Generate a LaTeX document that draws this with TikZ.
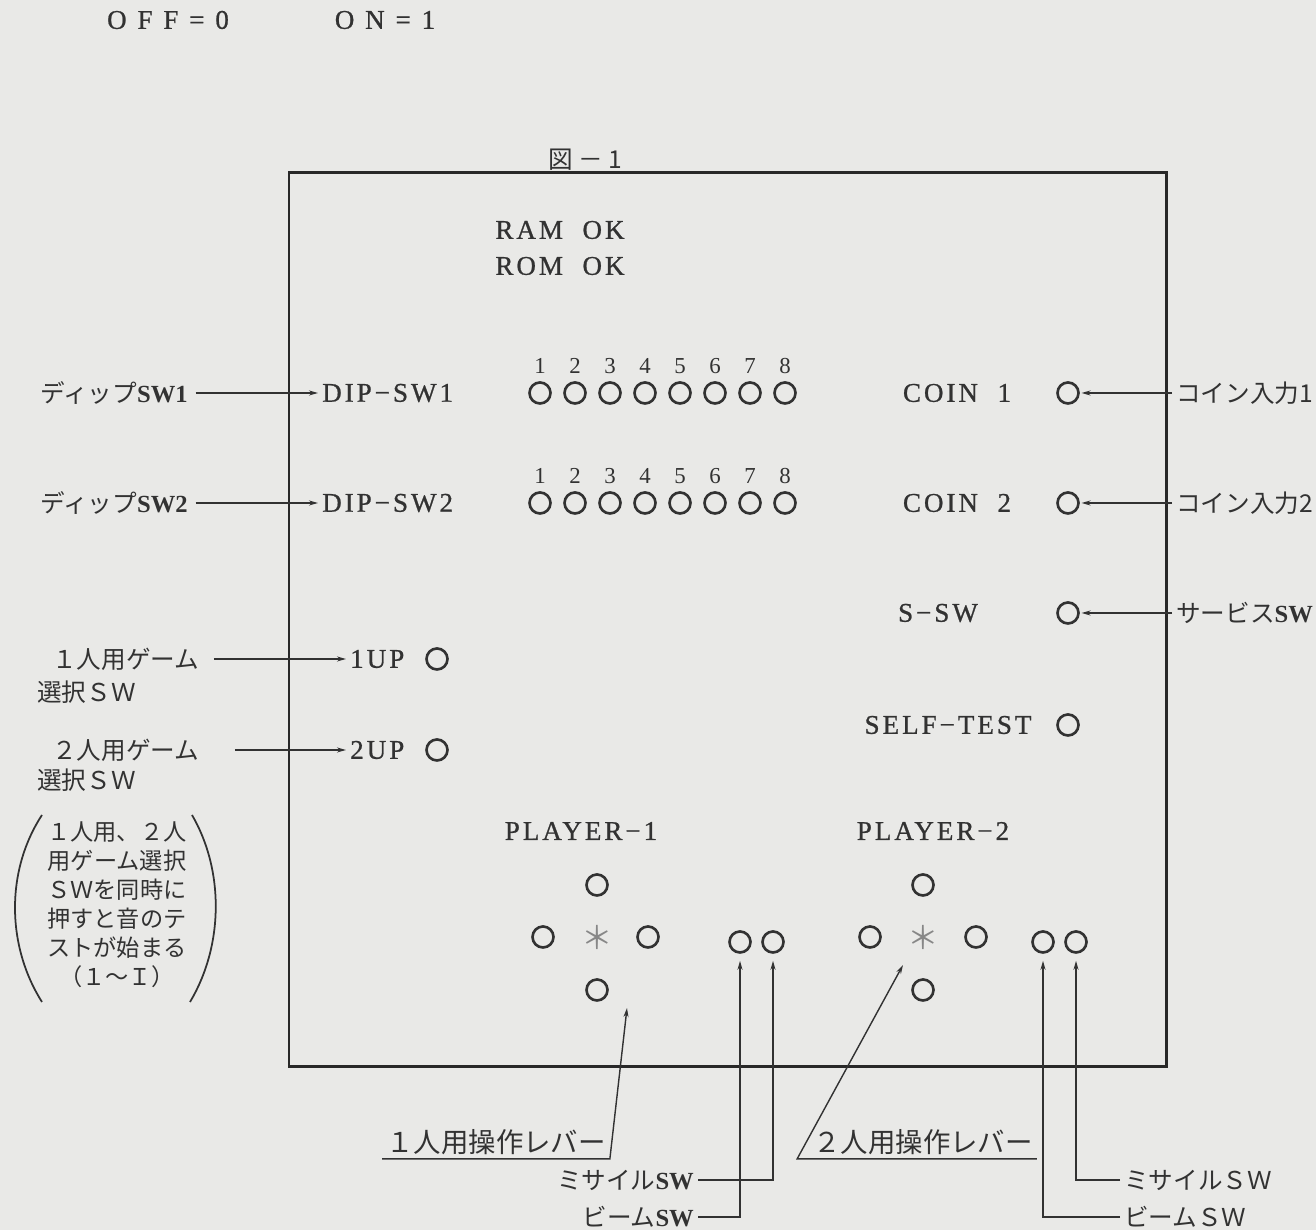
\documentclass[tikz,border=0pt]{standalone}
\usepackage{fontspec}
\setmainfont{Liberation Serif}
\newfontfamily\jpFont{Noto Sans CJK JP}
\newfontfamily\panelFont[LetterSpace=11, FakeBold=0.8]{Liberation Serif}
\newfontfamily\wideFont[LetterSpace=40, FakeBold=0.8]{Liberation Serif}
\usepackage{tikz}
\usetikzlibrary{arrows.meta}
\usetikzlibrary{positioning}
\definecolor{paperGray}{RGB}{233,233,231}
\definecolor{inkGray}{RGB}{50,50,50}
\definecolor{frameGray}{RGB}{40,40,40}
\definecolor{starGray}{RGB}{135,135,135}
\tikzset{lampCircle/.style={draw=inkGray, circle, line width=0.75pt, minimum size=0.21cm, inner sep=0pt}}
\tikzset{panelText/.style={text=inkGray, inner sep=1pt, font=\panelFont\fontsize{7.7}{9}\selectfont}}
\tikzset{jpText/.style={text=inkGray, inner sep=1pt, font=\jpFont\fontsize{7}{8.4}\selectfont}}
\tikzset{swArrow/.style={draw=inkGray, line width=0.4pt, -{Stealth[length=0.09cm,width=0.05cm]}}}
\tikzset{digitLabel/.style={label={[text=inkGray, font=\fontsize{6.5}{7}\selectfont, inner sep=0.5pt, label distance=1.5pt]above:#1}}}

\begin{document}
\begin{tikzpicture}

\useasboundingbox (0,0) rectangle (13.16,12.30);
\fill[paperGray] (0,0) rectangle (13.16,12.30);

\node[panelText] (offLbl) at (1.68, 12.10) {\wideFont OFF=0};
\node[panelText] (onLbl) at (3.85, 12.10) {\wideFont ON=1};
\node[jpText] (figTitle) at (5.85, 10.70) {図 － 1};

% screen frame
\draw[frameGray, line width=0.85pt] (2.89, 1.63) rectangle (11.66, 10.57);

\node[panelText] (ramOk) at (5.60, 10.00) {RAM\ \ OK};
\node[panelText] (romOk) at (5.60, 9.64) {ROM\ \ OK};

% dip switches
\node[jpText, anchor=east] (dipALbl) at (1.92, 8.37) {ディップ{\rmfamily\bfseries SW1}};
\node[panelText, anchor=west] (dipA) at (3.18, 8.37) {DIP−SW1};
\node[lampCircle, digitLabel=1] (da1) at (5.40, 8.37) {};
\node[lampCircle, digitLabel=2] (da2) at (5.75, 8.37) {};
\node[lampCircle, digitLabel=3] (da3) at (6.10, 8.37) {};
\node[lampCircle, digitLabel=4] (da4) at (6.45, 8.37) {};
\node[lampCircle, digitLabel=5] (da5) at (6.80, 8.37) {};
\node[lampCircle, digitLabel=6] (da6) at (7.15, 8.37) {};
\node[lampCircle, digitLabel=7] (da7) at (7.50, 8.37) {};
\node[lampCircle, digitLabel=8] (da8) at (7.85, 8.37) {};

\node[jpText, anchor=east] (dipBLbl) at (1.92, 7.27) {ディップ{\rmfamily\bfseries SW2}};
\node[panelText, anchor=west] (dipB) at (3.18, 7.27) {DIP−SW2};
\node[lampCircle, digitLabel=1] (db1) at (5.40, 7.27) {};
\node[lampCircle, digitLabel=2] (db2) at (5.75, 7.27) {};
\node[lampCircle, digitLabel=3] (db3) at (6.10, 7.27) {};
\node[lampCircle, digitLabel=4] (db4) at (6.45, 7.27) {};
\node[lampCircle, digitLabel=5] (db5) at (6.80, 7.27) {};
\node[lampCircle, digitLabel=6] (db6) at (7.15, 7.27) {};
\node[lampCircle, digitLabel=7] (db7) at (7.50, 7.27) {};
\node[lampCircle, digitLabel=8] (db8) at (7.85, 7.27) {};

\draw[swArrow, shorten <=1pt] (dipALbl) -- (dipA);
\draw[swArrow, shorten <=1pt] (dipBLbl) -- (dipB);

% coin, service, self test
\node[panelText] (coinA) at (9.57, 8.37) {COIN\ \ 1};
\node[lampCircle] (coinALamp) at (10.68, 8.37) {};
\node[jpText, anchor=west] (coinALbl) at (11.72, 8.37) {コイン入力1};

\node[panelText] (coinB) at (9.57, 7.27) {COIN\ \ 2};
\node[lampCircle] (coinBLamp) at (10.68, 7.27) {};
\node[jpText, anchor=west] (coinBLbl) at (11.72, 7.27) {コイン入力2};

\node[panelText] (sSw) at (9.38, 6.17) {S−SW};
\node[lampCircle] (sSwLamp) at (10.68, 6.17) {};
\node[jpText, anchor=west] (sSwLbl) at (11.72, 6.17) {サービス{\rmfamily\bfseries SW}};

\node[panelText] (selfTest) at (9.48, 5.05) {SELF−TEST};
\node[lampCircle] (selfTestLamp) at (10.68, 5.05) {};

\draw[swArrow, shorten >=0.5pt] (coinALbl) -- (coinALamp);
\draw[swArrow, shorten >=0.5pt] (coinBLbl) -- (coinBLamp);
\draw[swArrow, shorten >=0.5pt] (sSwLbl) -- (sSwLamp);

% start buttons
\node[jpText, anchor=west] (oneUpA) at (0.48, 5.71) {１人用ゲーム};
\node[jpText, anchor=west] (oneUpB) at (0.33, 5.38) {選択ＳＷ};
\node[panelText, anchor=west] (oneUp) at (3.46, 5.71) {1UP};
\node[lampCircle] (oneUpLamp) at (4.37, 5.71) {};

\node[jpText, anchor=west] (twoUpA) at (0.48, 4.80) {２人用ゲーム};
\node[jpText, anchor=west] (twoUpB) at (0.33, 4.50) {選択ＳＷ};
\node[panelText, anchor=west] (twoUp) at (3.46, 4.80) {2UP};
\node[lampCircle] (twoUpLamp) at (4.37, 4.80) {};

\draw[swArrow, shorten <=3pt] (oneUpA) -- (oneUp);
\draw[swArrow, shorten <=9pt] (twoUpA) -- (twoUp);

\node[jpText, align=center, font=\jpFont\fontsize{6.6}{8.25}\selectfont] (soundNote) at (1.17, 3.25)
  {１人用、２人\\用ゲーム選択\\ＳＷを同時に\\押すと音のテ\\ストが始まる\\（１～Ｉ）};
\draw[inkGray, line width=0.5pt] (0.42, 4.15) .. controls (0.06, 3.60) and (0.06, 2.85) .. (0.42, 2.28);
\draw[inkGray, line width=0.5pt] (1.92, 4.15) .. controls (2.24, 3.60) and (2.24, 2.85) .. (1.90, 2.28);

% player controls
\node[panelText] (playerA) at (5.81, 3.99) {PLAYER−1};
\node[lampCircle] (upA) at (5.97, 3.45) {};
\node[lampCircle] (leftA) at (5.43, 2.93) {};
\node[text=starGray, font=\jpFont\fontsize{9}{9}\selectfont] (stickA) at (5.97, 2.93) {＊};
\node[lampCircle] (rightA) at (6.48, 2.93) {};
\node[lampCircle] (downA) at (5.97, 2.40) {};
\node[lampCircle] (beamA) at (7.40, 2.88) {};
\node[lampCircle] (missileA) at (7.73, 2.88) {};

\node[panelText] (playerB) at (9.33, 3.99) {PLAYER−2};
\node[lampCircle] (upB) at (9.23, 3.45) {};
\node[lampCircle] (leftB) at (8.70, 2.93) {};
\node[text=starGray, font=\jpFont\fontsize{9}{9}\selectfont] (stickB) at (9.23, 2.93) {＊};
\node[lampCircle] (rightB) at (9.76, 2.93) {};
\node[lampCircle] (downB) at (9.23, 2.40) {};
\node[lampCircle] (beamB) at (10.43, 2.88) {};
\node[lampCircle] (missileB) at (10.76, 2.88) {};

% labels below the frame
\coordinate (leverATip) at (6.27, 2.22);
\coordinate (leverBTip) at (9.03, 2.65);
\node[jpText, font=\jpFont\fontsize{7.8}{9}\selectfont] (leverA) at (4.96, 0.88) {１人用操作レバー};
\node[jpText, font=\jpFont\fontsize{7.8}{9}\selectfont] (leverB) at (9.23, 0.88) {２人用操作レバー};
\draw[swArrow] (leverA.south west) -- (leverA.south east) -- (leverATip);
\draw[swArrow] (leverB.south east) -- (leverB.south west) -- ++(-0.12, 0) -- (leverBTip);

\node[jpText, anchor=east] (missileALbl) at (6.98, 0.50) {ミサイル{\rmfamily\bfseries SW}};
\node[jpText, anchor=east] (beamALbl) at (6.98, 0.13) {ビーム{\rmfamily\bfseries SW}};
\node[jpText, anchor=west] (missileBLbl) at (11.20, 0.50) {ミサイルＳＷ};
\node[jpText, anchor=west] (beamBLbl) at (11.20, 0.13) {ビームＳＷ};

\draw[swArrow, shorten >=0.07cm] (missileALbl.east) -| (missileA.south);
\draw[swArrow, shorten >=0.07cm] (beamALbl.east) -| (beamA.south);
\draw[swArrow, shorten >=0.07cm] (missileBLbl.west) -| (missileB.south);
\draw[swArrow, shorten >=0.07cm] (beamBLbl.west) -| (beamB.south);

\end{tikzpicture}
\end{document}
